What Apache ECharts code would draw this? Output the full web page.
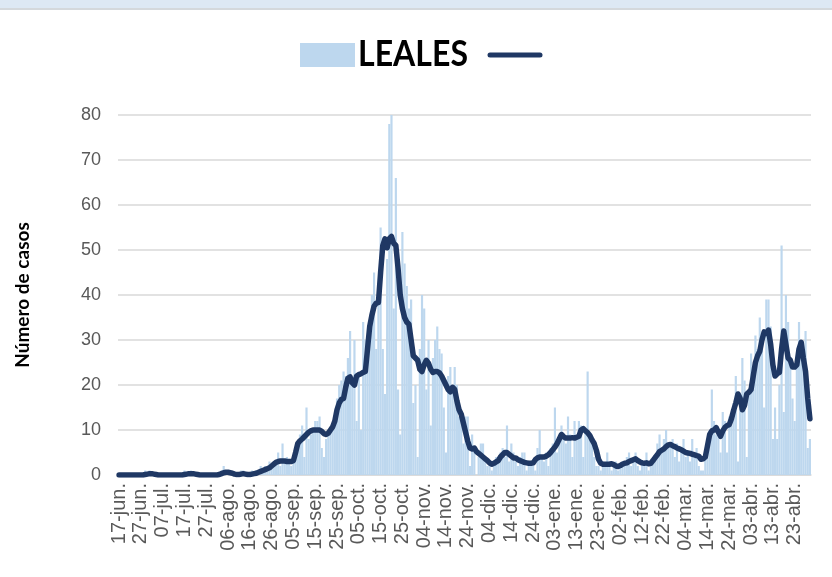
<!DOCTYPE html>
<html>
<head>
<meta charset="utf-8">
<script src="https://cdn.jsdelivr.net/npm/echarts@6/dist/echarts.min.js"></script>
<style>
  html, body { margin: 0; padding: 0; background: #ffffff; }
  #chart { width: 832px; height: 577px; }
</style>
</head>
<body>
<div id="chart"></div>
<script>
// Daily cases, 17 June 2020 to 30 April 2021
const startDate = [2020, 5, 17];
const dayCount = 318;
const labelEvery = 10;
const monthNames = ['ene', 'feb', 'mar', 'abr', 'may', 'jun', 'jul', 'ago', 'sep', 'oct', 'nov', 'dic'];

const dailyCases = [
  0,0,0,0,0,0,0,0,0,0,
  0,0,1,0,1,0,0,0,0,0,
  0,0,0,0,0,0,0,0,0,0,
  1,0,0,1,0,0,0,0,0,0,
  0,0,0,0,0,0,0,1,2,1,
  0,0,0,0,0,0,1,1,0,0,
  0,1,0,1,1,2,1,2,1,3,
  2,3,3,5,2,7,3,4,3,2,
  3,5,7,9,11,4,15,8,9,10,
  12,12,13,6,4,8,9,10,11,11,
  17,20,21,23,22,26,32,20,30,12,
  22,10,34,30,31,32,40,45,28,39,
  55,28,18,48,78,80,37,66,19,9,
  54,47,42,37,39,16,20,4,28,40,
  37,19,30,11,26,30,33,28,27,15,
  5,22,24,20,24,20,13,12,7,13,
  13,2,9,6,0,4,7,7,3,2,
  3,1,2,4,3,5,6,4,11,3,
  7,5,3,2,4,5,5,1,3,2,
  3,1,6,10,4,3,5,2,6,7,
  15,5,9,11,8,7,13,9,4,12,
  8,12,11,4,10,23,9,7,4,2,
  2,1,3,2,5,3,1,2,3,1,
  2,3,2,4,5,2,4,5,2,1,
  3,2,5,1,2,4,3,7,9,5,
  8,10,6,7,8,4,7,3,6,8,
  4,5,3,8,4,6,2,1,1,5,
  8,10,19,12,9,10,5,14,12,5,
  13,11,16,22,3,15,26,21,4,18,
  27,20,31,28,35,30,15,39,39,33,
  8,15,8,20,51,14,40,34,26,17,
  12,24,34,30,27,32,6,8
];

// Moving-average trend line
const trendCases = [
  0,0,0,0,0,0,0,0,0,0,
  0,0,0.1,0.2,0.3,0.3,0.2,0.1,0,0,
  0,0,0,0,0,0,0,0,0,0,
  0.1,0.2,0.3,0.3,0.3,0.2,0.1,0,0,0,
  0,0,0,0,0,0,0.1,0.3,0.5,0.6,
  0.6,0.5,0.4,0.2,0.1,0.1,0.2,0.3,0.2,0.1,
  0.1,0.2,0.3,0.4,0.6,0.8,1.0,1.2,1.4,1.6,
  2.0,2.4,2.8,3.0,3.1,3.1,3.1,3.0,3.0,3.0,
  3.2,5.0,7.0,7.6,8.0,8.5,9.0,9.5,9.8,10.0,
  10.0,10.0,10.0,9.7,9.2,9.0,9.3,10.0,10.7,12.0,
  14.5,16.0,16.8,17.0,19.5,21.5,21.8,20.5,20.0,22.0,
  22.3,22.5,22.8,23.0,28.0,33.0,35.5,37.5,38.2,38.3,
  45.0,51.0,52.5,50.5,52.5,53.0,51.5,51.0,46.0,40.0,
  37.0,35.0,34.0,33.5,30.0,26.5,26.0,25.5,23.5,23.0,
  24.5,25.5,24.8,23.5,22.8,23.0,23.0,22.7,22.0,21.0,
  20.0,19.0,18.5,19.5,19.0,16.5,14.5,13.5,11.5,9.5,
  7.5,6.0,5.8,6.0,5.2,4.8,4.4,4.0,3.6,3.2,
  2.7,2.4,2.6,2.9,3.2,4.0,4.5,5.0,5.0,4.6,
  4.2,3.8,3.8,3.4,3.2,3.0,2.8,2.7,2.6,2.6,
  2.7,3.4,3.8,4.0,4.0,4.0,4.2,4.5,5.0,5.6,
  6.2,7.0,8.0,9.0,8.5,8.2,8.2,8.2,8.3,8.2,
  8.4,8.6,10.0,10.3,9.8,9.4,8.8,7.8,7.0,5.5,
  3.5,2.6,2.4,2.4,2.4,2.4,2.5,2.3,2.0,1.9,
  2.1,2.4,2.6,2.7,3.0,3.2,3.4,3.6,3.2,2.9,
  2.7,2.6,2.7,2.5,2.6,3.2,3.9,4.5,5.2,5.5,
  5.8,6.3,6.7,6.8,6.5,6.3,6.0,5.8,5.6,5.3,
  5.0,4.9,4.8,4.6,4.5,4.3,4.2,3.5,3.6,4.0,
  6.5,9.0,9.8,10.0,10.5,9.5,8.6,9.8,10.6,11.0,
  11.2,12.5,14.4,16.0,18.0,17.0,14.5,15.5,18.0,18.4,
  19.0,22.0,25.0,26.5,27.5,30.0,31.8,31.5,32.2,29.0,
  24.5,22.0,22.5,22.8,28.0,32.0,29.0,26.0,25.5,24.0,
  24.0,24.5,28.0,29.5,26.0,23.0,17.0,12.5
];

const yTicks = { min: 0, max: 80, step: 10 };
const seriesName = 'LEALES';
const axisTitle = 'Número de casos';

// Build the day labels ("17-jun.")
const dayLabels = [];
for (let k = 0; k < dayCount; k++) {
  const d = new Date(startDate[0], startDate[1], startDate[2] + k);
  const dd = String(d.getDate()).padStart(2, '0');
  dayLabels.push(dd + '-' + monthNames[d.getMonth()] + '.');
}

const textGray = '#595959';
const barBlue = '#BDD7EE';
const lineNavy = '#1F3864';
const chart = echarts.init(document.getElementById('chart'), null, { renderer: 'canvas' });

chart.setOption({
  animation: false,
  backgroundColor: '#ffffff',
  grid: { left: 118, right: 21, top: 115, bottom: 102 },
  graphic: [
    // window strip along the top edge
    { type: 'rect', shape: { x: 0, y: 0, width: 832, height: 8 }, style: { fill: '#DDE8F4' }, silent: true },
    { type: 'rect', shape: { x: 0, y: 8, width: 832, height: 2 }, style: { fill: '#D4D8DC' }, silent: true },
    // legend: bar swatch, series name, trend line swatch
    { type: 'rect', shape: { x: 300, y: 43, width: 55, height: 24 }, style: { fill: barBlue }, silent: true },
    {
      type: 'text', x: 358, y: 36, scaleX: 0.89,
      style: { text: seriesName, fill: '#000000', font: 'bold 36px Lato', textVerticalAlign: 'top' },
      silent: true
    },
    { type: 'line', shape: { x1: 490, y1: 55, x2: 540, y2: 55 }, style: { stroke: lineNavy, lineWidth: 5, lineCap: 'round' }, silent: true }
  ],
  xAxis: {
    type: 'category',
    data: dayLabels,
    boundaryGap: true,
    axisLine: { show: true, lineStyle: { color: '#D9D9D9', width: 1.5 } },
    axisTick: { show: false },
    axisLabel: {
      interval: function (idx) { return idx % labelEvery === 0; },
      hideOverlap: false,
      rotate: 90,
      color: textGray,
      fontSize: 20,
      lineHeight: 20,
      fontFamily: 'Liberation Sans',
      margin: 8
    },
    splitLine: { show: false }
  },
  yAxis: {
    type: 'value',
    min: yTicks.min,
    max: yTicks.max,
    interval: yTicks.step,
    name: axisTitle,
    nameLocation: 'middle',
    nameGap: 86,
    nameTextStyle: { color: '#000000', fontSize: 19, fontWeight: 'bold', fontFamily: 'Lato' },
    axisLine: { show: false },
    axisTick: { show: false },
    axisLabel: { color: textGray, fontSize: 18, fontFamily: 'Liberation Sans', margin: 17 },
    splitLine: { lineStyle: { color: '#D9D9D9', width: 1.5 } }
  },
  series: [
    {
      name: seriesName,
      type: 'bar',
      data: dailyCases,
      barCategoryGap: '0%',
      itemStyle: { color: barBlue },
      silent: true
    },
    {
      name: 'Media móvil',
      type: 'line',
      data: trendCases,
      symbol: 'none',
      smooth: false,
      lineStyle: { color: lineNavy, width: 5.5, cap: 'round', join: 'round' },
      silent: true
    }
  ]
});
</script>
</body>
</html>
